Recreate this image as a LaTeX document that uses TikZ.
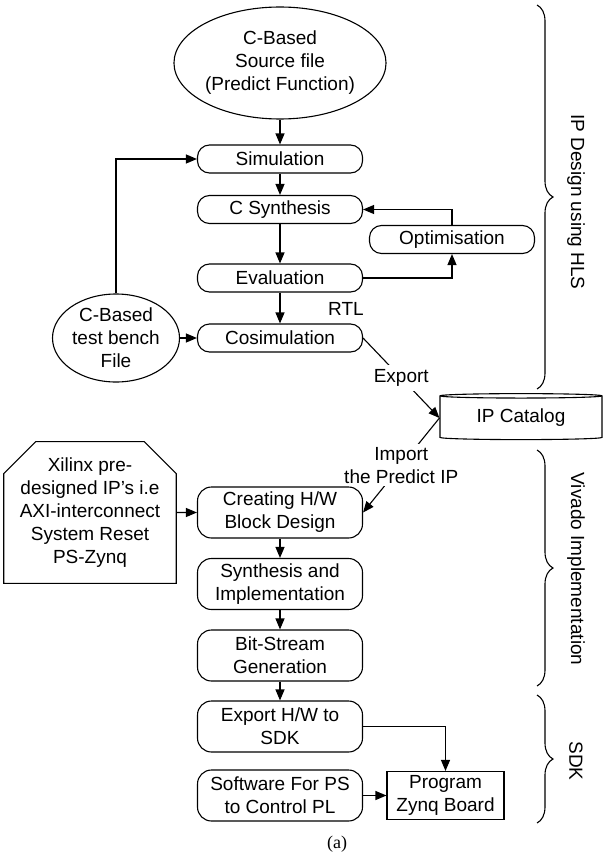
\documentclass[tikz,border=0pt]{standalone}
\usepackage{fontspec}
\setmainfont{Liberation Sans}
\newfontfamily\capserif{Liberation Serif}
\usetikzlibrary{shapes.geometric,shapes.misc,arrows.meta,decorations.pathreplacing}
\begin{document}
\begin{tikzpicture}[x=1pt,y=-1pt,line width=1.1pt,
    font=\fontsize{19}{23}\selectfont,
    >={Triangle[length=11pt,width=9pt]}]
    \useasboundingbox (0,0) rectangle (603,856);

      \begin{scope}[every node/.style={ellipse,draw,align=center,inner sep=0pt}]
        \node[minimum width=198pt,minimum height=112pt] (src) at (280,63) {C-Based\\Source file\\(Predict Function)};
        \node[minimum width=127pt,minimum height=88pt]  (tb)  at (116,338) {C-Based\\test bench\\File};
      \end{scope}

      \begin{scope}[every node/.style={draw,rounded corners=12pt,align=center,inner sep=0pt,minimum width=165pt,minimum height=28pt}]
        \node (sim)   at (280,159)   {Simulation};
        \node (csyn)  at (280,209.5) {C Synthesis};
        \node (opt)   at (452,239.5) {Optimisation};
        \node (eval)  at (280,278)   {Evaluation};
        \node (cosim) at (280,338)   {Cosimulation};
      \end{scope}

      \begin{scope}[every node/.style={draw,rounded corners=14pt,align=center,inner sep=0pt,minimum width=165pt,minimum height=51pt}]
        \node (chw)    at (280,512.5) {Creating H/W\\Block Design};
        \node (synimp) at (280,584)   {Synthesis and\\Implementation};
        \node (bit)    at (280,655.5) {Bit-Stream\\Generation};
        \node (exphw)  at (280,726.5) {Export H/W to\\SDK};
        \node (sw)     at (280,795.5) {Software For PS\\to Control PL};
      \end{scope}

      \node[draw,chamfered rectangle,chamfered rectangle corners={north west,north east},
            chamfered rectangle xsep=16pt,chamfered rectangle ysep=16pt,
            minimum width=166pt,minimum height=121pt,inner sep=0pt,align=center]
            (xil) at (90,512.5) {Xilinx pre-\\designed IP’s i.e\\AXI-interconnect\\System Reset\\PS-Zynq};
      \node[draw,minimum width=117pt,minimum height=48pt,inner sep=0pt,align=center]
            (prog) at (445.5,795.5) {Program\\Zynq Board};
      \node[draw,cylinder,shape border rotate=90,aspect=0.05,
            minimum width=162pt,minimum height=46pt,inner sep=0pt]
            (ipcat) at (521,418) {IP Catalog};

      \node (rtl) at (346,309) {RTL};

      \begin{scope}[every edge/.style={draw,->}]
        \path (src)    edge (sim);
        \path (sim)    edge (csyn);
        \path (csyn)   edge (eval);
        \path (eval)   edge (cosim);
        \path (tb)     edge (cosim);
        \path (xil)    edge (chw);
        \path (chw)    edge (synimp);
        \path (synimp) edge (bit);
        \path (bit)    edge (exphw);
        \path (sw)     edge (prog);
      \end{scope}

      \draw[->] (eval.east) -| (opt.south);
      \draw[->] (opt.north) |- (csyn.east);
      \draw[->] (tb.north) |- (sim.west);
      \draw[->] (exphw.east) -| (prog.north);
      \draw[->] (cosim.east) -- node[fill=white,inner sep=4pt] (exp) {Export} (ipcat.west);
      \draw[->] (ipcat.west) -- node[fill=white,inner sep=3pt,align=center] (imp) {Import\\the Predict IP} (chw.east);

      % phase braces
      \begin{scope}[decoration={brace,amplitude=16pt}]
        \draw[decorate] (537,5)   -- (537,389);
        \draw[decorate] (537,450) -- (537,686);
        \draw[decorate] (537,695) -- (537,823);
      \end{scope}
      \node[rotate=-90] (hls) at (576,202) {IP Design using HLS};
      \node[rotate=-90] (viv) at (576,569) {Vivado Implementation};
      \node[rotate=-90] (sdk) at (576,761) {SDK};

      \node[font=\capserif\fontsize{18}{21}\selectfont] (cap) at (337,844) {(a)};

    \end{tikzpicture}
\end{document}
